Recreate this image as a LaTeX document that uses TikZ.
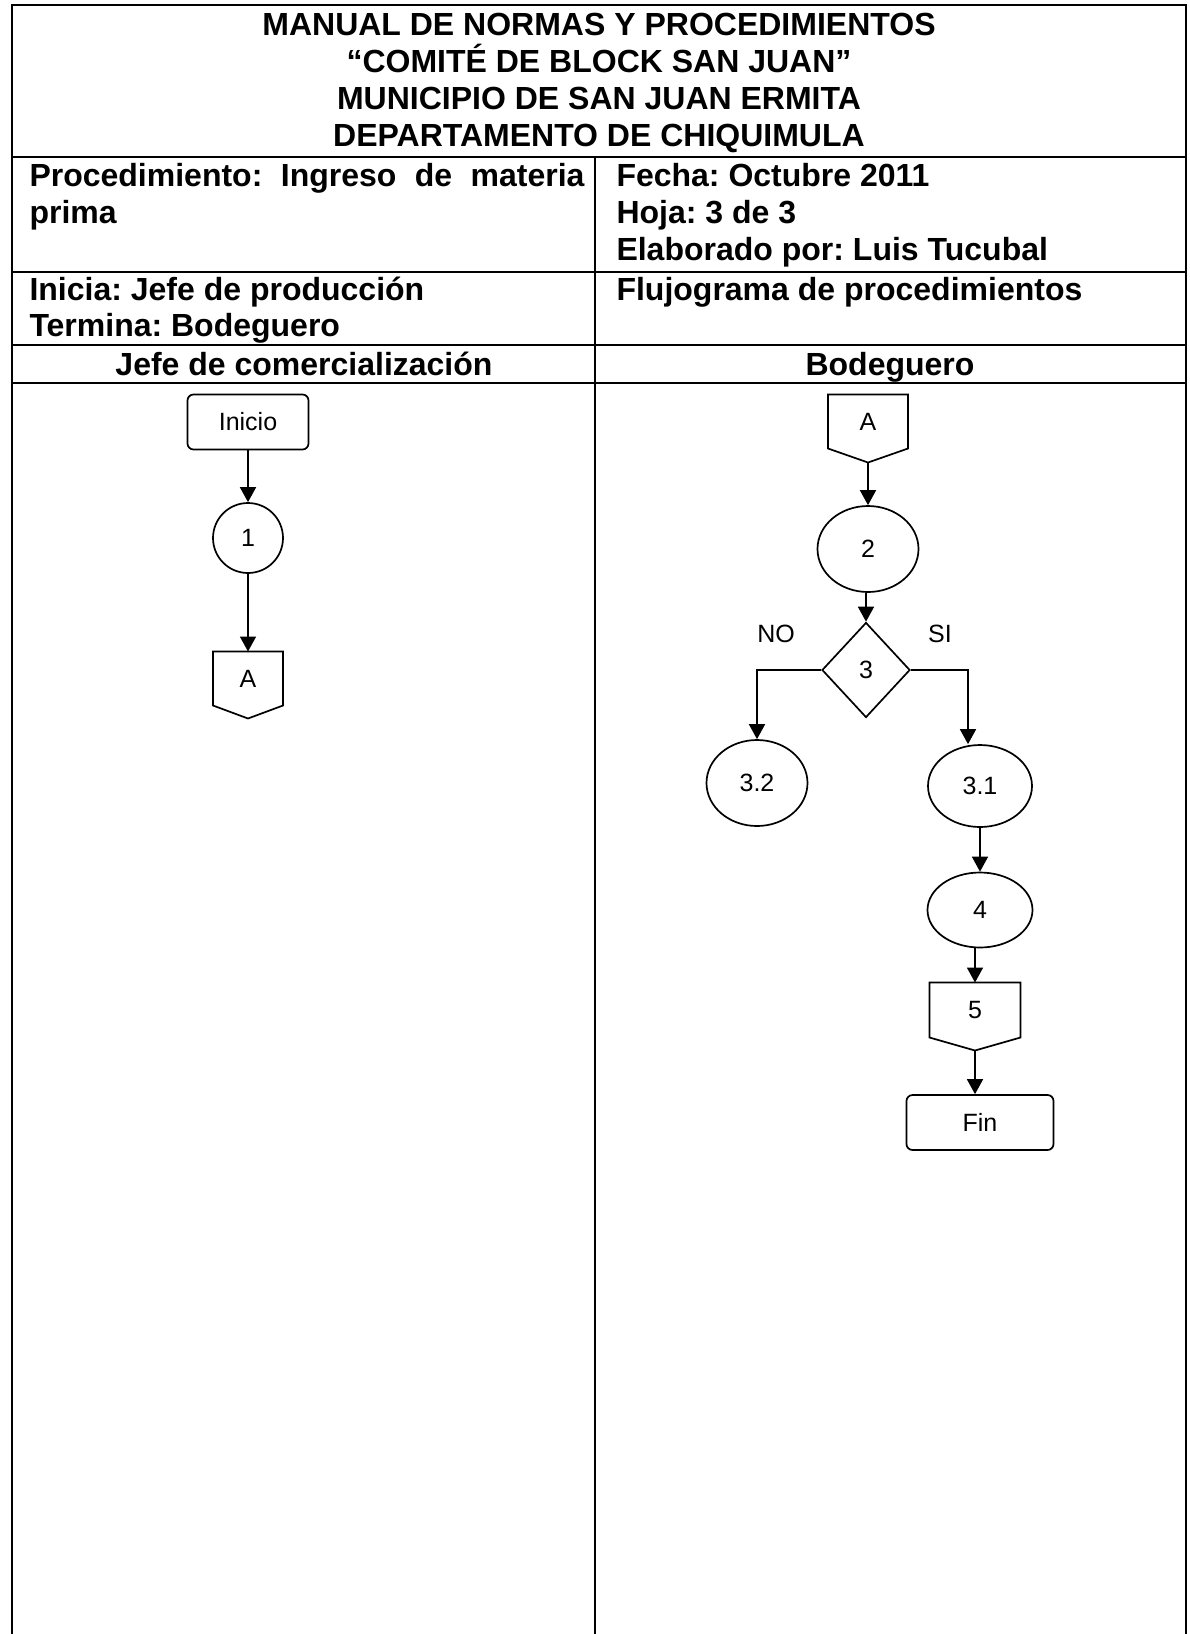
\documentclass[tikz,border=0pt]{standalone}
\usepackage{fontspec}
\setmainfont{Liberation Sans}
\usetikzlibrary{shapes.geometric,arrows.meta,calc}
\newdimen\pxu \pxu=0.4pt
\frenchspacing
\begin{document}
\begin{tikzpicture}[x=0.4pt,y=-0.4pt,
  tablerule/.style={line width=0.76pt},
  hdr/.style={font=\fontsize{12.8}{14.8}\selectfont\bfseries, inner sep=0pt},
  flow/.style={draw, line width=0.68pt, font=\fontsize{10}{12}\selectfont, inner sep=0pt},
  term/.style={flow, rectangle, rounded corners=2.4pt},
  proc/.style={flow, ellipse},
  dec/.style={flow, diamond},
  offp/.style={rectangle, inner sep=0pt, font=\fontsize{10}{12}\selectfont},
  flowline/.style={line width=0.68pt, line join=miter},
  arr/.style={line width=0.68pt, -{Triangle[length=6pt,width=6.4pt]}},
  lbl/.style={font=\fontsize{10}{12}\selectfont, inner sep=0pt}
]
\useasboundingbox (0,0) rectangle (1189,1634);
% table
\draw[tablerule] (12,1634) -- (12,5) -- (1186,5) -- (1186,1634);
\draw[tablerule] (12,157) -- (1186,157);
\draw[tablerule] (12,272) -- (1186,272);
\draw[tablerule] (12,345) -- (1186,345);
\draw[tablerule] (12,383) -- (1186,383);
\draw[tablerule] (595,157) -- (595,1634);
% header texts
\node[hdr, anchor=base] (t1) at (599,35) {MANUAL DE NORMAS Y PROCEDIMIENTOS};
\node[hdr, anchor=base] (t2) at (599,72) {“COMITÉ DE BLOCK SAN JUAN”};
\node[hdr, anchor=base] (t3) at (599,109) {MUNICIPIO DE SAN JUAN ERMITA};
\node[hdr, anchor=base] (t4) at (599,146) {DEPARTAMENTO DE CHIQUIMULA};
\node[hdr, anchor=base west] (proc1) at (29,186) {\hbox to 555\pxu{Procedimiento:\hfill Ingreso\hfill de\hfill materia}};
\node[hdr, anchor=base west] (proc2) at (29,223) {prima};
\node[hdr, anchor=base west] (fecha) at (616,186) {Fecha: Octubre 2011};
\node[hdr, anchor=base west] (hoja) at (616,223) {Hoja: 3 de 3};
\node[hdr, anchor=base west] (elab) at (616,260) {Elaborado por: Luis Tucubal};
\node[hdr, anchor=base west] (inicia) at (29,300) {Inicia: Jefe de producción};
\node[hdr, anchor=base west] (termina) at (29,336) {Termina: Bodeguero};
\node[hdr, anchor=base west] (fluj) at (616,300) {Flujograma de procedimientos};
\node[hdr, anchor=base] (lane1) at (304,375) {Jefe de comercialización};
\node[hdr, anchor=base] (lane2) at (890,375) {Bodeguero};
% left lane
\node[term, minimum width=48.4pt, minimum height=22pt] (ini) at (248,422) {Inicio};
\node[flow, circle, minimum size=28pt] (c1) at (248,538) {1};
\node[offp, minimum width=27.6pt, minimum height=21.2pt] (a1) at (248,678.5) {A};
\coordinate (a1tip) at ($(a1.south)+(0,13)$);
\draw[flowline] (a1.north west) -- (a1.north east) -- (a1.south east) -- (a1tip) -- (a1.south west) -- cycle;
\draw[arr] (ini) -- (c1);
\draw[arr] (c1) -- (a1);
% right lane
\node[offp, minimum width=31.6pt, minimum height=21.2pt] (a2) at (868,421.5) {A};
\coordinate (a2tip) at ($(a2.south)+(0,14)$);
\draw[flowline] (a2.north west) -- (a2.north east) -- (a2.south east) -- (a2tip) -- (a2.south west) -- cycle;
\node[proc, minimum width=40.4pt, minimum height=34.4pt] (e2) at (868,549) {2};
\node[dec, minimum width=35.2pt, minimum height=38pt] (d3) at (866,670) {3};
\node[lbl] (no) at (776,634) {NO};
\node[lbl] (si) at (940,634) {SI};
\node[proc, minimum width=40.4pt, minimum height=34.4pt] (e32) at (757,783) {3.2};
\node[proc, minimum width=41.6pt, minimum height=32.8pt] (e31) at (980,786) {3.1};
\node[proc, minimum width=42pt, minimum height=30pt] (e4) at (980,910) {4};
\node[offp, minimum width=36pt, minimum height=21.6pt] (five) at (975,1010) {5};
\coordinate (fivetip) at ($(five.south)+(0,13)$);
\draw[flowline] (five.north west) -- (five.north east) -- (five.south east) -- (fivetip) -- (five.south west) -- cycle;
\node[term, minimum width=58.8pt, minimum height=22pt] (fin) at (980,1122.5) {Fin};
\draw[arr] (a2tip) -- (e2);
\draw[arr] (e2.south -| d3.north) -- (d3.north);
\draw[arr] (d3.west) -| (e32.north);
\draw[arr] (d3.east) -| ([xshift=-4.8pt]e31.north);
\draw[arr] (e31) -- (e4);
\draw[arr] (e4.south -| five.north) -- (five.north);
\draw[arr] (fivetip) -- (fivetip |- fin.north);
\end{tikzpicture}
\end{document}
